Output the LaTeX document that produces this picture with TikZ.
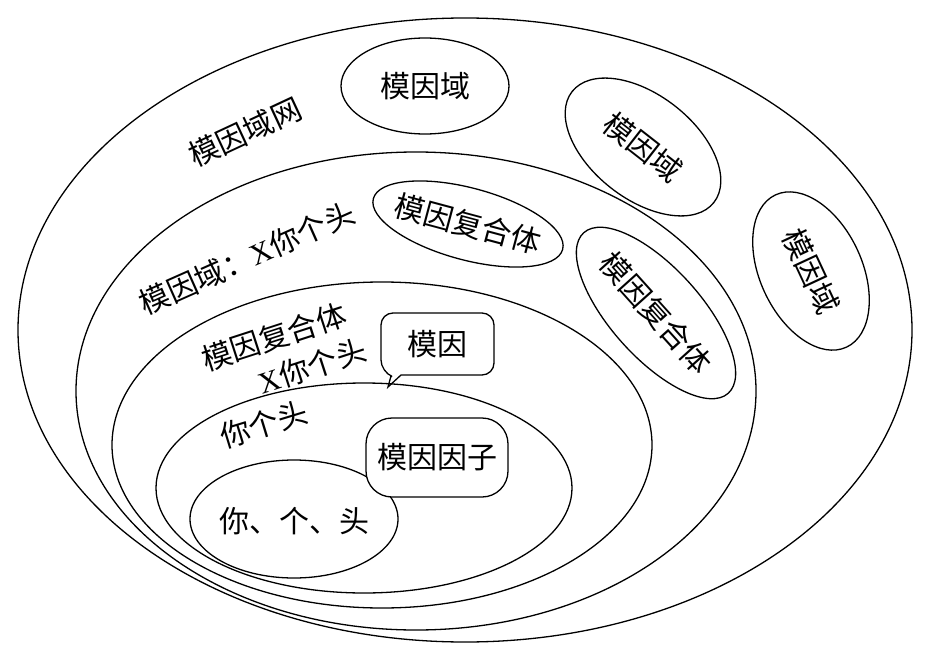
\documentclass[tikz,border=0pt]{standalone}
\usepackage{fontspec}
\setmainfont{Liberation Serif}
\newfontfamily\cjk{Noto Sans CJK SC}
\begin{document}
\begin{tikzpicture}[x=1pt,y=-1pt,line width=1.3pt,
  lbl/.style={font=\cjk\fontsize{30}{34}\selectfont, inner sep=0pt},
  rbox/.style={lbl, draw, fill=white, rounded corners=26pt, minimum width=142pt, minimum height=79pt}]
\useasboundingbox (0,0) rectangle (934,658);
\fill[white] (0,0) rectangle (934,658);
% centres
\coordinate (cNet) at (465,330);
\coordinate (cDom) at (416,391);
\coordinate (cCpx) at (382,445);
\coordinate (cHead) at (364,488);
\coordinate (cWords) at (294,519);
\coordinate (cD1) at (425,86);
\coordinate (cD2) at (643,147);
\coordinate (cD3) at (811,271);
\coordinate (cC1) at (468,224);
\coordinate (cC2) at (656,313);
% nested ellipses
\draw (cNet) ellipse [x radius=447, y radius=312];
\draw (cDom) ellipse [x radius=340, y radius=239];
\draw (cCpx) ellipse [x radius=270, y radius=163];
\draw (cHead) ellipse [x radius=208, y radius=105];
\draw (cWords) ellipse [x radius=104, y radius=59];
% small ellipses
\draw (cD1) ellipse [x radius=84, y radius=48];
\draw[rotate around={-38:(cD2)}] (cD2) ellipse [x radius=90, y radius=52];
\draw[rotate around={-65:(cD3)}] (cD3) ellipse [x radius=84, y radius=51];
\draw[rotate around={-15:(cC1)}] (cC1) ellipse [x radius=98, y radius=36];
\draw[rotate around={-48:(cC2)}] (cC2) ellipse [x radius=108, y radius=45];
% texts
\node[lbl] (tD1) at (cD1) {模因域};
\node[lbl, rotate=-38] (tD2) at (cD2) {模因域};
\node[lbl, rotate=-65] (tD3) at (cD3) {模因域};
\node[lbl, rotate=-15] (tC1) at (cC1) {模因复合体};
\node[lbl, rotate=-48] (tC2) at (cC2) {模因复合体};
\node[lbl, rotate=25] (tNet) at (245,132) {模因域网};
\node[lbl, rotate=24] (tDom) at (247,258) {模因域：{\rmfamily X}你个头};
\node[lbl, rotate=18] (tCpx1) at (274,337) {模因复合体};
\node[lbl, rotate=18] (tCpx2) at (312,366) {{\rmfamily X}你个头};
\node[lbl, rotate=17] (tHead) at (264,424) {你个头};
\node[lbl] (tWords) at (294,521) {你、个、头};
% factor box
\node[rbox] (factor) at (437,457.5) {模因因子};
% meme callout
\node[lbl] (meme) at (437.5,344) {模因};
\draw (388,387) -- (401,375) [rounded corners=12pt] -- (494,375) -- (494,313) -- (381,313) -- (381,372) [sharp corners] -- (391,376) -- cycle;
\end{tikzpicture}
\end{document}
